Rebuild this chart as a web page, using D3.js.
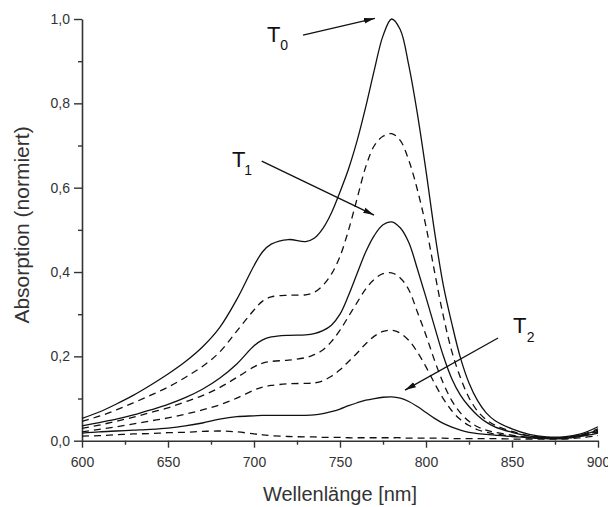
<!DOCTYPE html>
<html>
<head>
<meta charset="utf-8">
<script src="https://cdn.jsdelivr.net/npm/d3@7"></script>
<style>
  html, body { margin: 0; padding: 0; background: #fff; }
  svg { display: block; font-family: "Liberation Sans", Arial, sans-serif; }
</style>
</head>
<body>
<svg id="chart" width="608" height="507"></svg>
<script>
// ---------- data ----------
const wavelengths = [600,610,620,630,640,650,660,670,680,690,700,705,710,720,730,735,740,745,750,755,760,765,770,775,780,785,790,795,800,805,810,815,820,825,830,835,840,850,860,870,880,890,900];

const seriesT0 = [0.053,0.068,0.087,0.108,0.132,0.158,0.187,0.222,0.268,0.335,0.415,0.448,0.466,0.477,0.472,0.480,0.503,0.540,0.590,0.645,0.712,0.792,0.880,0.960,1.000,0.975,0.890,0.775,0.640,0.495,0.370,0.278,0.197,0.137,0.095,0.066,0.048,0.028,0.015,0.009,0.009,0.016,0.033];
const seriesD1 = [0.046,0.058,0.073,0.090,0.108,0.127,0.150,0.176,0.210,0.260,0.310,0.331,0.341,0.345,0.346,0.352,0.368,0.395,0.437,0.500,0.575,0.650,0.700,0.722,0.728,0.712,0.665,0.595,0.508,0.400,0.297,0.212,0.150,0.102,0.070,0.050,0.037,0.022,0.012,0.008,0.008,0.014,0.028];
const seriesT1 = [0.035,0.043,0.051,0.061,0.073,0.086,0.102,0.122,0.148,0.182,0.225,0.239,0.246,0.250,0.251,0.254,0.261,0.274,0.300,0.345,0.397,0.448,0.487,0.512,0.519,0.505,0.470,0.407,0.340,0.270,0.202,0.147,0.108,0.081,0.060,0.044,0.033,0.020,0.011,0.007,0.007,0.013,0.025];
const seriesD2 = [0.029,0.037,0.046,0.056,0.067,0.078,0.092,0.107,0.126,0.150,0.175,0.184,0.188,0.191,0.197,0.204,0.215,0.235,0.262,0.295,0.328,0.360,0.383,0.396,0.398,0.386,0.358,0.305,0.250,0.190,0.137,0.095,0.066,0.046,0.033,0.025,0.020,0.013,0.008,0.006,0.006,0.012,0.022];
const seriesD3 = [0.021,0.027,0.033,0.040,0.047,0.054,0.063,0.073,0.085,0.101,0.120,0.127,0.131,0.135,0.136,0.137,0.142,0.153,0.168,0.188,0.208,0.230,0.248,0.259,0.262,0.255,0.238,0.210,0.175,0.136,0.100,0.071,0.050,0.036,0.026,0.020,0.016,0.011,0.007,0.005,0.006,0.011,0.020];
const seriesT2 = [0.018,0.021,0.023,0.025,0.027,0.030,0.035,0.042,0.051,0.057,0.059,0.060,0.060,0.060,0.060,0.061,0.064,0.069,0.075,0.083,0.090,0.096,0.100,0.103,0.104,0.101,0.093,0.081,0.067,0.053,0.041,0.032,0.025,0.020,0.017,0.015,0.013,0.010,0.007,0.005,0.005,0.010,0.018];
const seriesD4 = [0.011,0.012,0.014,0.016,0.017,0.019,0.020,0.022,0.023,0.021,0.016,0.014,0.012,0.010,0.009,0.009,0.008,0.008,0.008,0.007,0.007,0.007,0.007,0.007,0.007,0.007,0.006,0.006,0.006,0.006,0.006,0.005,0.005,0.005,0.005,0.005,0.005,0.004,0.004,0.004,0.004,0.007,0.012];

const seriesList = [
  { name: "T0", values: seriesT0, dashed: false },
  { name: "D1", values: seriesD1, dashed: true },
  { name: "T1", values: seriesT1, dashed: false },
  { name: "D2", values: seriesD2, dashed: true },
  { name: "D3", values: seriesD3, dashed: true },
  { name: "T2", values: seriesT2, dashed: false },
  { name: "D4", values: seriesD4, dashed: true }
];

const xTicks = [600, 650, 700, 750, 800, 850, 900];
const xMinorTicks = [625, 675, 725, 775, 825, 875];
const yTicks = [0, 0.2, 0.4, 0.6, 0.8, 1.0];
const yMinorTicks = [0.1, 0.3, 0.5, 0.7, 0.9];

// annotation labels and arrows in data units
const annotations = [
  { sub: "0", label: [707.6, 0.945], subPos: [715.2, 0.926], from: [728.5, 0.962], to: [770.3, 1.0017] },
  { sub: "1", label: [687.2, 0.649], subPos: [694.3, 0.630], from: [704.5, 0.663], to: [769.8, 0.535] },
  { sub: "2", label: [850.6, 0.2554], subPos: [858.6, 0.234], from: [841.9, 0.2435], to: [787.8, 0.120] }
];

const xTitle = "Wellenlänge [nm]";
const yTitle = "Absorption (normiert)";

// ---------- drawing ----------
const svg = d3.select("#chart");
const x = d3.scaleLinear().domain([600, 900]).range([82, 598]);
const y = d3.scaleLinear().domain([0, 1]).range([440.7, 19]);
const textColor = "#333";
const axisColor = "#333";

const fmt = v => d3.format(".1f")(v).replace(".", ",");

// axes
const xAxis = d3.axisBottom(x).tickValues(xTicks).tickSize(7).tickSizeOuter(0).tickPadding(9).tickFormat(d3.format("d"));
svg.append("g").attr("transform", `translate(0,${y(0)})`).call(xAxis);
const xMinor = d3.axisBottom(x).tickValues(xMinorTicks).tickSize(4).tickSizeOuter(0).tickFormat("");
const gxm = svg.append("g").attr("transform", `translate(0,${y(0)})`).call(xMinor);
gxm.select(".domain").remove();

const yAxis = d3.axisLeft(y).tickValues(yTicks).tickSize(8).tickSizeOuter(0).tickPadding(4).tickFormat(fmt);
svg.append("g").attr("transform", `translate(${x(600)},0)`).call(yAxis);
const yMinor = d3.axisLeft(y).tickValues(yMinorTicks).tickSize(4).tickSizeOuter(0).tickFormat("");
const gym = svg.append("g").attr("transform", `translate(${x(600)},0)`).call(yMinor);
gym.select(".domain").remove();

svg.selectAll(".domain").attr("stroke", axisColor).attr("stroke-width", 1.6);
svg.selectAll(".tick line").attr("stroke", axisColor).attr("stroke-width", 1.4);
svg.selectAll(".tick text").attr("fill", textColor).style("font-size", "14px")
   .style("font-family", "'Liberation Sans', Arial, sans-serif");

// curves
const line = d3.line()
  .x((d, i) => x(wavelengths[i]))
  .y(d => y(d))
  .curve(d3.curveCatmullRom.alpha(0.5));

svg.append("g").selectAll("path")
  .data(seriesList)
  .join("path")
  .attr("d", s => line(s.values))
  .attr("fill", "none")
  .attr("stroke", "#111")
  .attr("stroke-width", 1.3)
  .attr("stroke-dasharray", s => s.dashed ? "7,5" : null);

// arrow marker
svg.append("defs").append("marker")
  .attr("id", "arrow")
  .attr("markerUnits", "userSpaceOnUse")
  .attr("markerWidth", 12).attr("markerHeight", 8)
  .attr("refX", 11).attr("refY", 4)
  .attr("orient", "auto")
  .append("path").attr("d", "M0,1.2 L11,4 L0,6.8 Z").attr("fill", "#111");

const ann = svg.append("g");
annotations.forEach(a => {
  ann.append("line")
    .attr("x1", x(a.from[0])).attr("y1", y(a.from[1]))
    .attr("x2", x(a.to[0])).attr("y2", y(a.to[1]))
    .attr("stroke", "#111").attr("stroke-width", 1.3)
    .attr("marker-end", "url(#arrow)");
  ann.append("text")
    .attr("x", x(a.label[0])).attr("y", y(a.label[1]))
    .attr("fill", "#111").style("font-size", "22px").text("T");
  ann.append("text")
    .attr("x", x(a.subPos[0])).attr("y", y(a.subPos[1]))
    .attr("fill", "#111").style("font-size", "14px").text(a.sub);
});

// titles
svg.append("text")
  .attr("x", (x(600) + x(900)) / 2).attr("y", 501)
  .attr("text-anchor", "middle").attr("fill", textColor)
  .style("font-size", "20px").text(xTitle);

svg.append("text")
  .attr("transform", `translate(29,${225}) rotate(-90)`)
  .attr("text-anchor", "middle").attr("fill", textColor)
  .style("font-size", "21px").text(yTitle);
</script>
</body>
</html>
